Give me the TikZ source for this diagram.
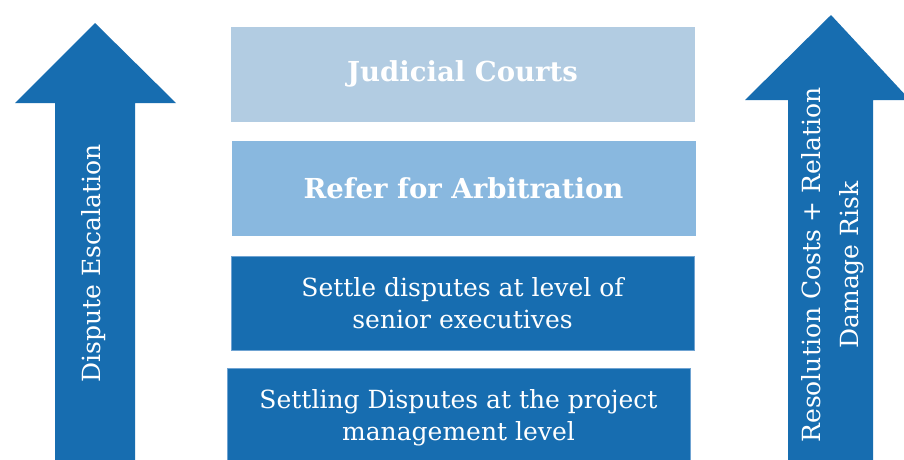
\documentclass[tikz,border=0pt]{standalone}
\usepackage{fontspec}
\setmainfont{DejaVu Serif}
\definecolor{dblue}{HTML}{176DB0}
\definecolor{lblue}{HTML}{B2CCE2}
\definecolor{mblue}{HTML}{89B8DF}
\definecolor{edgeblue}{HTML}{6FA3D2}
\tikzset{
  box/.style={draw=edgeblue, line width=0.8pt, minimum width=463pt, minimum height=94pt,
    inner sep=0pt, text=white, align=center, font=\fontsize{25}{32}\selectfont},
  boldbox/.style={box, font=\fontsize{27.5}{32}\selectfont\bfseries},
  arrowtext/.style={rotate=90, text=white, align=center, font=\fontsize{25}{38}\selectfont}
}
\begin{document}
\begin{tikzpicture}[x=1pt,y=-1pt]
\useasboundingbox (0,0) rectangle (904,459);
\fill[white] (0,0) rectangle (904,459);
% left arrow
\fill[dblue] (95,23) -- (176,103) -- (135,103) -- (135,470) -- (55,470) -- (55,103) -- (15,103) -- cycle;
% right arrow
\fill[dblue] (831,15) -- (910,100) -- (873,100) -- (873,470) -- (788,470) -- (788,100) -- (745,100) -- cycle;
\node[arrowtext] (la) at (94,263.5) {Dispute Escalation};
\node[arrowtext] (ra) at (833,265) {Resolution Costs + Relation\\Damage Risk};
% boxes
\node[boldbox, fill=lblue, draw=lblue] (b1) at (462.5,74) {\raisebox{-2pt}{Judicial Courts}};
\node[boldbox, fill=mblue, draw=mblue] (b2) at (463.5,188.5) {Refer for Arbitration};
\node[box, fill=dblue] (b3) at (462.5,303) {Settle disputes at level of\\senior executives};
\node[box, fill=dblue, minimum height=100pt] (b4) at (458.5,418) {Settling Disputes at the project\\management level};
\end{tikzpicture}
\end{document}
